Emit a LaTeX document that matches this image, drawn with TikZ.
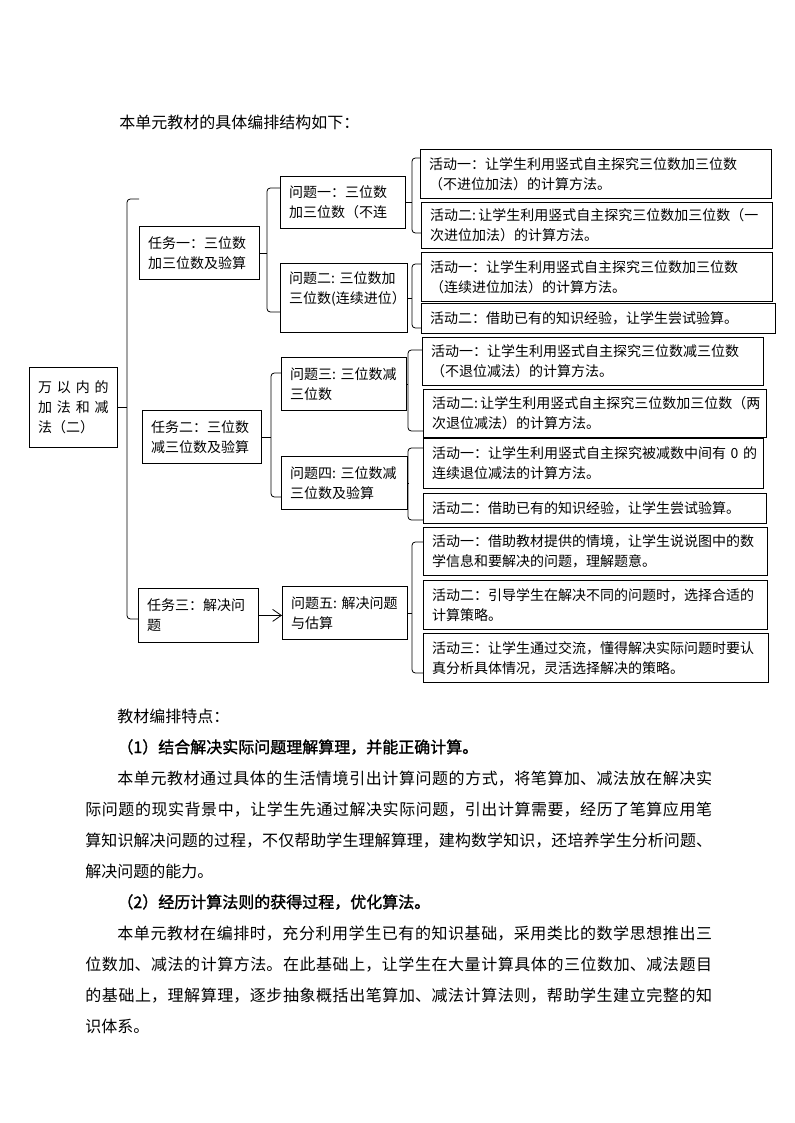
\documentclass[tikz,border=0pt]{standalone}
\usepackage{fontspec}
\setmainfont{Noto Sans CJK SC}
\newfontfamily\boldcjk[FakeBold=1.5]{Noto Sans CJK SC}
\usetikzlibrary{arrows.meta}

\begin{document}
\begin{tikzpicture}[x=0.75pt, y=-0.75pt, line width=0.6pt,
    >={Straight Barb[length=6.5pt, width=9pt]},
    plainbox/.style 2 args={draw, anchor=north west, align=left, inner xsep=6.5pt, inner ysep=0pt,
        minimum width={#1*0.75pt}, text width={#1*0.75pt-13pt}, minimum height={#2*0.75pt},
        font=\fontsize{10.5pt}{15pt}\selectfont},
    brace/.style={rounded corners=2.5pt},
    body/.style={anchor=base west, inner sep=0pt, font=\fontsize{12pt}{23.25pt}\selectfont}]
    \useasboundingbox (0,0) rectangle (794,1123);

    % Title
    \node[body] (title) at (119,129) {本单元教材的具体编排结构如下：};

    % Define boxes
    \node[plainbox={88}{80}] (root) at (29,367) {\makebox[\linewidth][s]{万\hfill 以\hfill 内\hfill 的}\\ \makebox[\linewidth][s]{加\hfill 法\hfill 和\hfill 减}\\ 法（二）};
    \node[plainbox={120}{53}] (t1) at (139,226) {任务一：三位数\\ 加三位数及验算};
    \node[plainbox={119}{53}] (t2) at (142,410) {任务二：三位数\\ 减三位数及验算};
    \node[plainbox={120}{54}] (t3) at (138,588) {任务三：解决问\\ 题};
    \node[plainbox={125}{52}] (q1) at (280,176) {问题一：三位数\\ 加三位数（不连};
    \node[plainbox={127}{69}] (q2) at (280,263) {问题二:~三位数加\\ 三位数(连续进位）\\ \mbox{}};
    \node[plainbox={125}{53}] (q3) at (281,357) {问题三:~三位数减\\ 三位数};
    \node[plainbox={126}{53}] (q4) at (281,456) {问题四:~三位数减\\ 三位数及验算};
    \node[plainbox={125}{53}] (q5) at (282,586) {问题五:~解决问题\\ 与估算};
    \node[plainbox={351}{49}] (a11) at (420,149) {活动一：让学生利用竖式自主探究三位数加三位数\\ （不进位加法）的计算方法。};
    \node[plainbox={351}{46}] (a12) at (421,202) {活动二:\,让学生利用竖式自主探究三位数加三位数（一\\ 次进位加法）的计算方法。};
    \node[plainbox={351}{49}] (a21) at (421,252) {活动一：让学生利用竖式自主探究三位数加三位数\\ （连续进位加法）的计算方法。};
    \node[plainbox={354}{30}] (a22) at (421,303) {活动二：借助已有的知识经验，让学生尝试验算。};
    \node[plainbox={341}{48}] (a31) at (422,337) {活动一：让学生利用竖式自主探究三位数减三位数\\ （不退位减法）的计算方法。};
    \node[plainbox={343}{48}] (a32) at (423,389) {活动二:\,让学生利用竖式自主探究三位数加三位数（两\\ 次退位减法）的计算方法。};
    \node[plainbox={340}{50}] (a41) at (423,438) {活动一：让学生利用竖式自主探究被减数中间有~0~的\\ 连续退位减法的计算方法。};
    \node[plainbox={343}{30}] (a42) at (423,493) {活动二：借助已有的知识经验，让学生尝试验算。};
    \node[plainbox={344}{48}] (a51) at (423,527) {活动一：借助教材提供的情境，让学生说说图中的数\\ 学信息和要解决的问题，理解题意。};
    \node[plainbox={344}{49}] (a52) at (423,580) {活动二：引导学生在解决不同的问题时，选择合适的\\ 计算策略。};
    \node[plainbox={345}{49}] (a53) at (423,633) {活动三：让学生通过交流，懂得解决实际问题时要认\\ 真分析具体情况，灵活选择解决的策略。};

    % Brace corners
    \coordinate (rt) at (127,199);  \coordinate (rb) at (127,619);
    \coordinate (t1t) at (267,188); \coordinate (t1b) at (267,312);
    \coordinate (t2t) at (271,373); \coordinate (t2b) at (271,497);
    \coordinate (q1t) at (412,158); \coordinate (q1b) at (412,233);
    \coordinate (q2t) at (412,264); \coordinate (q2b) at (412,328);
    \coordinate (q3t) at (408,350); \coordinate (q3b) at (408,431);
    \coordinate (q4t) at (408,448); \coordinate (q4b) at (408,520);
    \coordinate (q5t) at (412,542); \coordinate (q5b) at (412,673);

    % Draw braces
    \draw[brace] (rt -| t1.west) -- (rt) -- (rb) -- (rb -| t3.west);
    \draw (root.east) -- (root.east -| rt);
    \draw[brace] (t1t -| q1.west) -- (t1t) -- (t1b) -- (t1b -| q2.west);
    \draw (t1.east) -- (t1.east -| t1t);
    \draw[brace] (t2t -| q3.west) -- (t2t) -- (t2b) -- (t2b -| q4.west);
    \draw (t2.east) -- (t2.east -| t2t);
    \draw[brace] (q1t -| a11.west) -- (q1t) -- (q1b) -- (q1b -| a12.west);
    \draw (q1.east) -- (q1.east -| q1t);
    \draw[brace] (q2t -| a21.west) -- (q2t) -- (q2b) -- (q2b -| a22.west);
    \draw (q2.east) -- (q2.east -| q2t);
    \draw[brace] (q3t -| a31.west) -- (q3t) -- (q3b) -- (q3b -| a32.west);
    \draw (q3.east) -- (q3.east -| q3t);
    \draw[brace] (q4t -| a41.west) -- (q4t) -- (q4b) -- (q4b -| a42.west);
    \draw (q4.east) -- (q4.east -| q4t);
    \draw[brace] (q5t -| a51.west) -- (q5t) -- (q5b) -- (q5b -| a53.west);
    \draw (q5.east) -- (q5.east -| q5t);
    \draw[->] (t3.east) -- (t3.east -| q5.west); % task three to problem five

    % Notes below
    \node[body, text width=470pt, align=justify] (notes) at (85,722) {%
        \XeTeXlinebreaklocale "zh"\XeTeXlinebreakskip=0pt plus 2pt\relax
        \setlength\parindent{24pt}\setlength\parskip{0pt}%
        \noindent\hspace*{24pt}教材编排特点：\par
        {\boldcjk （1）结合解决实际问题理解算理，并能正确计算。}\par
        本单元教材通过具体的生活情境引出计算问题的方式，将笔算加、减法放在解决实\linebreak
        际问题的现实背景中，让学生先通过解决实际问题，引出计算需要，经历了笔算应用笔\linebreak
        算知识解决问题的过程，不仅帮助学生理解算理，建构数学知识，还培养学生分析问题、\linebreak
        解决问题的能力。\par
        {\boldcjk （2）经历计算法则的获得过程，优化算法。}\par
        本单元教材在编排时，充分利用学生已有的知识基础，采用类比的数学思想推出三\linebreak
        位数加、减法的计算方法。在此基础上，让学生在大量计算具体的三位数加、减法题目\linebreak
        的基础上，理解算理，逐步抽象概括出笔算加、减法计算法则，帮助学生建立完整的知\linebreak
        识体系。\par};
\end{tikzpicture}
\end{document}
